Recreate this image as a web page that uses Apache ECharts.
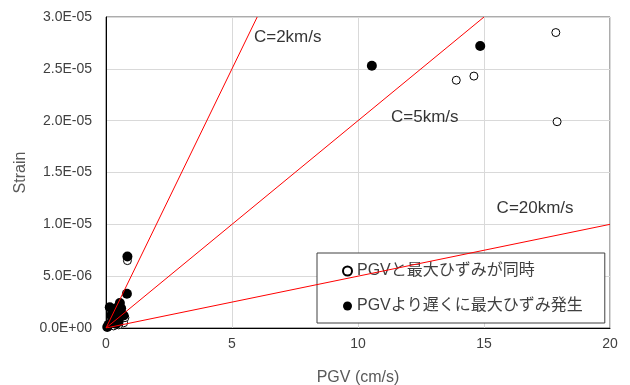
<!DOCTYPE html>
<html>
<head>
<meta charset="utf-8">
<script src="https://cdn.jsdelivr.net/npm/echarts@6/dist/echarts.min.js"></script>
<style>
  html, body { margin: 0; padding: 0; background: #fff; }
  #chart { width: 630px; height: 385px; }
</style>
</head>
<body>
<div id="chart"></div>
<script>
// PGV (cm/s) vs strain
const sameTime = [
  [17.85, 2.85e-5], [14.6, 2.43e-5], [13.9, 2.39e-5], [17.9, 1.99e-5],
  [0.85, 6.5e-6], [0.6, 0.8e-6], [0.7, 0.5e-6], [0.5, 0.3e-6],
  [0.3, 0.2e-6], [0.75, 1.0e-6], [0.65, 1.4e-6]
]
const laterPeak = [
  [10.55, 2.53e-5], [14.85, 2.72e-5], [0.85, 6.9e-6], [0.83, 3.3e-6],
  [0.15, 2.0e-6], [0.25, 1.7e-6], [0.35, 1.5e-6], [0.55, 2.4e-6],
  [0.6, 1.9e-6], [0.45, 1.0e-6], [0.3, 0.8e-6], [0.2, 0.5e-6],
  [0.1, 0.3e-6], [0.4, 0.4e-6], [0.05, 0.1e-6], [0.5, 0.6e-6],
  [0.7, 1.2e-6], [0.2, 1.2e-6], [0.4, 1.9e-6]
]
// reference lines strain = PGV / C
const lineC2 = [[0, 0], [6, 3e-5]]
const lineC5 = [[0, 0], [15, 3e-5]]
const lineC20 = [[0, 0], [20, 1e-5]]
const lineLabels = [
  { text: 'C=2km/s', coord: [5.87, 2.8e-5] },
  { text: 'C=5km/s', coord: [11.31, 2.035e-5] },
  { text: 'C=20km/s', coord: [15.5, 1.157e-5] }
]
const seriesNames = ['PGVと最大ひずみが同時', 'PGVより遅くに最大ひずみ発生']

const font = 'Liberation Sans, Noto Sans CJK JP, sans-serif'

function sci (v) {
  if (v === 0) return '0.0E+00'
  const [m, e] = v.toExponential(1).split('e')
  const n = parseInt(e, 10)
  return m + 'E' + (n < 0 ? '-' : '+') + String(Math.abs(n)).padStart(2, '0')
}

function refLine (data) {
  return {
    type: 'line',
    data: data,
    showSymbol: false,
    silent: true,
    z: 5,
    lineStyle: { color: '#ff0000', width: 1 }
  }
}

const chart = echarts.init(document.getElementById('chart'))
chart.setOption({
  animation: false,
  textStyle: { fontFamily: font },
  grid: {
    left: 106, right: 20, top: 17, bottom: 57,
    outerBoundsMode: 'none',
    show: true, borderColor: '#595959', borderWidth: 1
  },
  legend: {
    data: seriesNames,
    orient: 'vertical',
    left: 317,
    top: 253,
    backgroundColor: '#fff',
    borderColor: '#404040',
    borderWidth: 1,
    padding: [10, 22, 9, 25],
    itemWidth: 9,
    itemHeight: 9,
    itemGap: 19,
    textStyle: { fontSize: 16, lineHeight: 16, color: '#404040', fontFamily: font }
  },
  xAxis: {
    type: 'value',
    min: 0, max: 20, interval: 5,
    name: 'PGV (cm/s)',
    nameLocation: 'middle',
    nameGap: 42,
    nameTextStyle: { fontSize: 16, color: '#595959' },
    axisLine: { show: true, lineStyle: { color: '#000', width: 1 } },
    axisTick: { show: false },
    axisLabel: { fontSize: 14, color: '#404040', margin: 9 },
    splitLine: { lineStyle: { color: '#d9d9d9' } }
  },
  yAxis: {
    type: 'value',
    min: 0, max: 3e-5, interval: 5e-6,
    name: 'Strain',
    nameLocation: 'middle',
    nameGap: 70,
    nameTextStyle: { fontSize: 16, color: '#595959' },
    axisLine: { show: true, lineStyle: { color: '#000', width: 1 } },
    axisTick: { show: false },
    axisLabel: { fontSize: 14, color: '#404040', margin: 14, formatter: sci },
    splitLine: { lineStyle: { color: '#d9d9d9' } }
  },
  series: [
    {
      name: seriesNames[0],
      type: 'scatter',
      data: sameTime,
      symbol: 'circle',
      symbolSize: 8,
      z: 3,
      itemStyle: { color: '#fff', borderColor: '#000', borderWidth: 1, opacity: 1 }
    },
    {
      name: seriesNames[1],
      type: 'scatter',
      data: laterPeak,
      symbol: 'circle',
      symbolSize: 10,
      z: 4,
      itemStyle: { color: '#000', opacity: 1 }
    },
    refLine(lineC2),
    refLine(lineC5),
    refLine(lineC20),
    {
      type: 'scatter',
      silent: true,
      symbolSize: 0,
      z: 6,
      data: lineLabels.map(d => ({ value: d.coord, name: d.text })),
      label: {
        show: true,
        position: 'right',
        distance: 0,
        formatter: p => p.name,
        fontSize: 17,
        color: '#000',
        fontFamily: font
      }
    }
  ]
})
</script>
</body>
</html>
